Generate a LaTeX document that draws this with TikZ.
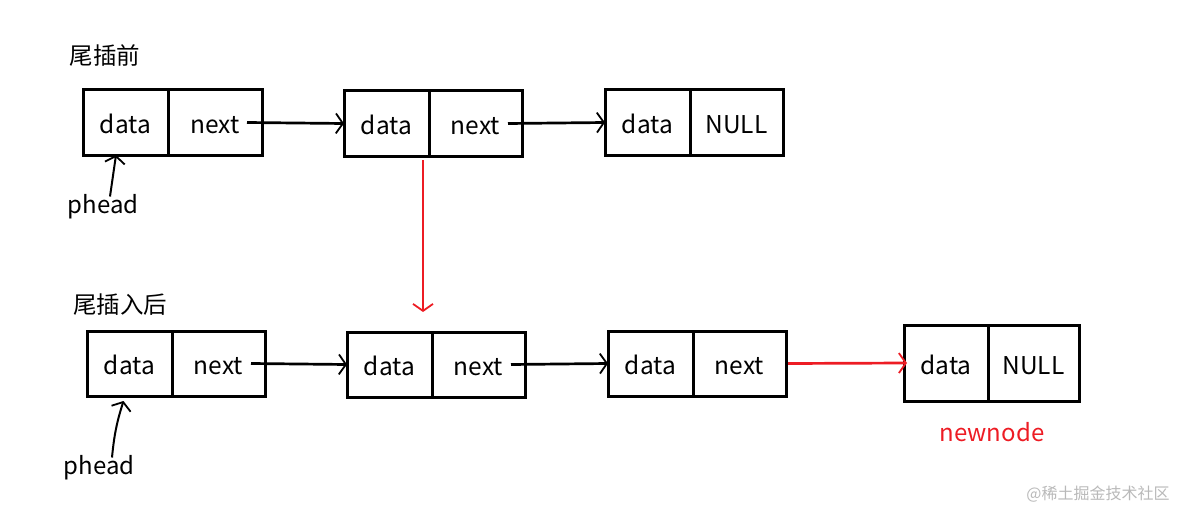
\documentclass[tikz,border=0pt]{standalone}
\usepackage{fontspec}
\setmainfont{Noto Sans CJK SC}
\usetikzlibrary{arrows.meta}
\definecolor{pred}{RGB}{237,28,36}
\definecolor{wm}{RGB}{185,185,185}
\begin{document}
\begin{tikzpicture}[x=1pt,y=-1pt,
  cell/.style={draw, line width=3pt, minimum height=65pt, inner sep=0pt, outer sep=0pt, anchor=west,
    text height=22pt, text depth=0pt, font=\fontsize{24.5}{28}\selectfont},
  dcell/.style={cell, minimum width=85pt},
  ncell/.style={cell, minimum width=93pt},
  lbl/.style={inner sep=0pt, font=\fontsize{24}{28}\selectfont},
  ttl/.style={inner sep=0pt, font=\fontsize{23.5}{28}\selectfont},
  arr/.style={line width=2.7pt, -{Straight Barb[length=7pt,width=20pt,line width=1.8pt]}},
  rarr/.style={arr, draw=pred}]
\useasboundingbox (0,0) rectangle (1184,511);
% row 1
\node[ttl] (t1) at (105,56) {尾插前};
\node[dcell] (a1) at (83,122.5) {data};
\node[ncell, minimum width=94pt] (a2) at (a1.east) {next};
\node[dcell] (b1) at (344,123.5) {data};
\node[ncell] (b2) at (b1.east) {next};
\node[dcell] (c1) at (605,122.5) {data};
\node[ncell] (c2) at (c1.east) {NULL};
\node[lbl] (ph1) at (103,207) {phead};
\draw[arr] ([xshift=-15pt]a2.east) -- (b1.west);
\draw[arr] ([xshift=-14pt]b2.east) -- (c1.west);
\draw[arr, line width=2pt] ([xshift=7pt,yshift=-2pt]ph1.north) -- ([xshift=-9.5pt]a1.south);
% row 2
\node[ttl] (t2) at (120,305) {尾插入后};
\node[dcell] (d1) at (87,363.5) {data};
\node[ncell] (d2) at (d1.east) {next};
\node[dcell] (e1) at (347,364.5) {data};
\node[ncell] (e2) at (e1.east) {next};
\node[dcell] (f1) at (608,363.5) {data};
\node[ncell] (f2) at (f1.east) {next};
\node[dcell, minimum height=76pt, minimum width=84pt] (g1) at (904,363) {data};
\node[ncell, minimum height=76pt, minimum width=91pt] (g2) at (g1.east) {NULL};
\node[lbl, text=pred] (nn) at (992,432) {newnode};
\node[lbl] (ph2) at (99,468) {phead};
\draw[arr, line width=2pt] ([xshift=13pt,yshift=-2pt]ph2.north) to[bend left=6] ([xshift=-6pt,yshift=-5pt]d1.south);
\draw[arr] ([xshift=-14pt]d2.east) -- (e1.west);
\draw[arr] ([xshift=-14pt]e2.east) -- (f1.west);
\draw[rarr] ([xshift=2pt]f2.east) -- ([xshift=3pt]g1.west);
% red down arrow
\coordinate (dn) at ([xshift=-9pt,yshift=20pt]e1.north east);
\draw[rarr] ([xshift=-6pt,yshift=-4pt]b1.south east) -- (dn);
% watermark
\node[inner sep=0pt, text=wm, font=\fontsize{16}{18}\selectfont] (wmk) at (1098,494) {@稀土掘金技术社区};
\end{tikzpicture}
\end{document}
